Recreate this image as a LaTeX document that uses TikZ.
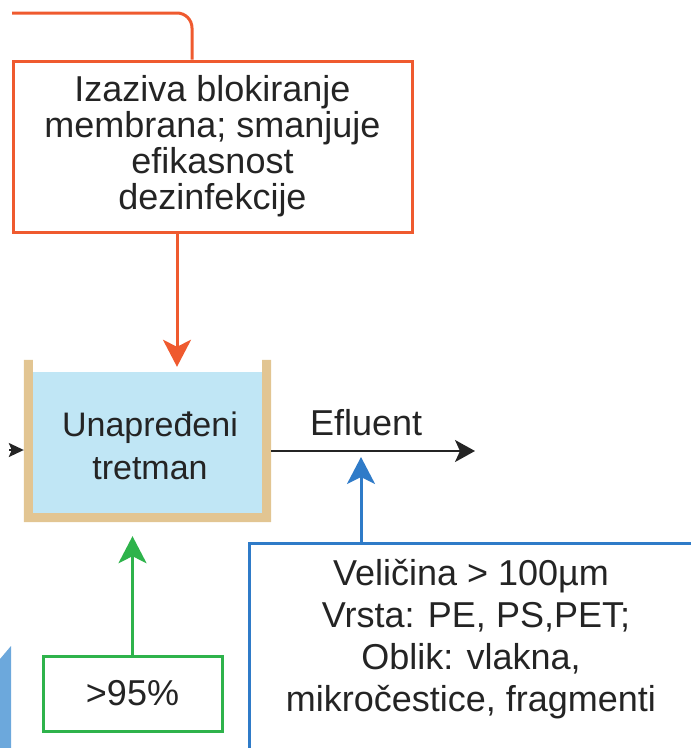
\documentclass[tikz,border=0pt]{standalone}
\usepackage{fontspec}
\setmainfont{Liberation Sans}
\usetikzlibrary{arrows.meta}
\definecolor{orng}{HTML}{EF5A2F}
\definecolor{bluec}{HTML}{2F7BC8}
\definecolor{greenc}{HTML}{2EB34B}
\definecolor{beige}{HTML}{E2C592}
\definecolor{water}{HTML}{C0E6F5}
\definecolor{lblue}{HTML}{6CA8DC}
\definecolor{txtc}{HTML}{242424}
\begin{document}
\begin{tikzpicture}[x=1pt,y=-1pt,
  txt/.style={font=\fontsize{36}{36}\selectfont, text=txtc, align=center, inner sep=0pt},
  obox/.style={draw=orng, line width=3pt, minimum width=399pt, minimum height=171pt, inner sep=0pt},
  gbox/.style={draw=greenc, line width=3pt, minimum width=179pt, minimum height=75pt, inner sep=0pt},
  bbox/.style={draw=bluec, line width=3pt, minimum width=444pt, minimum height=206pt, inner sep=0pt},
  tankbox/.style={minimum width=247pt, minimum height=162pt, inner sep=0pt},
  bigtip/.style={-{Stealth[length=27pt,width=28pt,inset=7pt]}},
  oarrow/.style={draw=orng, line width=3pt, bigtip, orng},
  garrow/.style={draw=greenc, line width=3pt, bigtip, greenc},
  barrow/.style={draw=bluec, line width=3pt, bigtip, bluec},
  karrow/.style={draw=txtc, line width=2pt, -{Stealth[length=20pt,width=22pt,inset=5pt]}},
  ksmall/.style={draw=txtc, line width=2pt, -{Stealth[length=15pt,width=14pt,inset=3pt]}},
  oline/.style={draw=orng, line width=3pt}
]
\useasboundingbox (0,0) rectangle (691,748);

% left blue sliver
\fill[lblue] (0,659) -- (11,646) -- (11,748) -- (0,748) -- cycle;

% orange box
\node[obox, txt] (orange) at (212.5,146.5) {Izaziva blokiranje\\membrana; smanjuje\\efikasnost\\dezinfekcije};
\coordinate (ostart) at (12,13);
\draw[oline, rounded corners=15pt] (ostart) -| ([xshift=-20.5pt]orange.north);

% tank
\node[tankbox] (tank) at (147.5,441) {};
\fill[water] ([shift={(9,12)}]tank.north west) rectangle ([shift={(-9,-9)}]tank.south east);
\fill[beige] (tank.north west) -- (tank.south west) -- (tank.south east) -- (tank.north east)
  -- ++(-9,0) |- ([shift={(9,-9)}]tank.south west) -- ([xshift=9pt]tank.north west) -- cycle;
\node[txt, font=\fontsize{34}{43}\selectfont] (tanklabel) at (150,446) {Unapređeni\\tretman};

% orange arrow into tank
\draw[oarrow, shorten >=-7pt] ([xshift=-35.5pt]orange.south) -- ([xshift=-35.5pt]orange.south |- tank.north);

% influent arrow
\coordinate (lin) at (9,450);
\draw[ksmall] (lin) -- ([yshift=-9pt]tank.west);

% effluent
\coordinate (efftip) at (475,451);
\draw[karrow] ([yshift=-10pt]tank.east) -- (efftip) node[pos=0.466, above=14pt, txt] (efl) {Efluent};

% green box
\node[gbox, txt] (green) at (132.5,693.5) {>95\%};
\draw[garrow, shorten >=14pt] (green.north) -- (green.north |- tank.south);

% blue box
\node[bbox] (bluebox) at (471,646) {};
\node[txt, font=\fontsize{36}{42}\selectfont] (bluetext) at (471,639.5) {Veličina > 100µm\\\hphantom{\ }Vrsta: PE, PS,PET;\\Oblik: vlakna,\\mikročestice, fragmenti};
\draw[barrow, shorten >=6pt] ([xshift=-110pt]bluebox.north) -- ([xshift=-110pt]bluebox.north |- efftip);
\end{tikzpicture}
\end{document}
